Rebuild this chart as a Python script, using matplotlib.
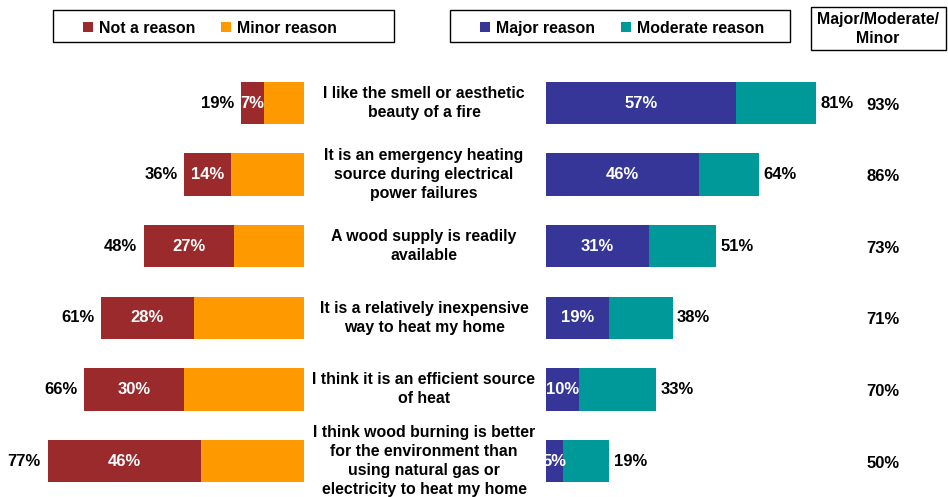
import matplotlib
matplotlib.use("Agg")
import matplotlib.pyplot as plt
from matplotlib.patches import Rectangle

# Survey results (percent of respondents)
reasons = [
    "I like the smell or aesthetic\nbeauty of a fire",
    "It is an emergency heating\nsource during electrical\npower failures",
    "A wood supply is readily\navailable",
    "It is a relatively inexpensive\nway to heat my home",
    "I think it is an efficient source\nof heat",
    "I think wood burning is better\nfor the environment than\nusing natural gas or\nelectricity to heat my home",
]
not_reason = [7, 14, 27, 28, 30, 46]
not_or_minor = [19, 36, 48, 61, 66, 77]
major = [57, 46, 31, 19, 10, 5]
major_or_moderate = [81, 64, 51, 38, 33, 19]
major_moderate_minor = [93, 86, 73, 71, 70, 50]

RED = "#9b2a2c"
ORANGE = "#ff9900"
NAVY = "#363698"
TEAL = "#009999"

plt.rcParams["font.family"] = ["Liberation Sans", "DejaVu Sans"]
plt.rcParams["font.weight"] = "bold"
FS = 11.4
NUM_FS = 12

W, H = 948, 497
fig = plt.figure(figsize=(W / 100, H / 100), dpi=100)

px_per_pct = 3.33
row0, row_gap = 103, 71.6
ylim = ((H - row0) / row_gap, -row0 / row_gap)
bar_h = 0.59
rows = range(len(reasons))

# left half: "not a reason" + "minor reason", growing leftwards
axl = fig.add_axes([0, 0, 304 / W, 1])
axl.set_xlim(304 / px_per_pct, 0)
axl.set_ylim(*ylim)
axl.axis("off")
minor = [t - n for t, n in zip(not_or_minor, not_reason)]
axl.barh(rows, minor, height=bar_h, color=ORANGE)
axl.barh(rows, not_reason, left=minor, height=bar_h, color=RED)
for i in rows:
    axl.text(minor[i] + not_reason[i] / 2, i, f"{not_reason[i]}%", ha="center",
             va="center", color="white", fontsize=NUM_FS, fontweight="bold")
    axl.text(not_or_minor[i] + 2, i, f"{not_or_minor[i]}%", ha="right",
             va="center", color="black", fontsize=NUM_FS, fontweight="bold")

# right half: "major reason" + "moderate reason"
axr = fig.add_axes([546 / W, 0, (W - 546) / W, 1])
axr.set_xlim(0, (W - 546) / px_per_pct)
axr.set_ylim(*ylim)
axr.axis("off")
moderate = [t - m for t, m in zip(major_or_moderate, major)]
axr.barh(rows, major, height=bar_h, color=NAVY)
axr.barh(rows, moderate, left=major, height=bar_h, color=TEAL)
for i in rows:
    axr.text(major[i] / 2, i, f"{major[i]}%", ha="center", va="center",
             color="white", fontsize=NUM_FS, fontweight="bold")
    axr.text(major_or_moderate[i] + 1.3, i, f"{major_or_moderate[i]}%",
             ha="left", va="center", color="black", fontsize=NUM_FS, fontweight="bold")
    axr.text((883 - 546) / px_per_pct, i + 0.03, f"{major_moderate_minor[i]}%",
             ha="center", va="center", color="black", fontsize=NUM_FS, fontweight="bold")
    # category label between the two halves
    axr.text((424 - 546) / px_per_pct, i, reasons[i], ha="center", va="center",
             fontsize=FS, fontweight="bold", linespacing=1.34, multialignment="center")


def fig_box(x0, y0, x1, y1):
    fig.patches.append(Rectangle((x0 / W, 1 - y1 / H), (x1 - x0) / W, (y1 - y0) / H,
                                 transform=fig.transFigure, facecolor="white",
                                 edgecolor="black", linewidth=1.0))


def legend_item(x, y, color, label):
    fig.patches.append(Rectangle((x / W, 1 - (y + 5) / H), 10 / W, 10 / H,
                                 transform=fig.transFigure, facecolor=color,
                                 edgecolor="none"))
    fig.text((x + 16) / W, 1 - y / H, label, ha="left", va="center_baseline",
             fontsize=FS, fontweight="bold")


fig_box(53, 10, 394, 42)
legend_item(83, 27, RED, "Not a reason")
legend_item(221, 27, ORANGE, "Minor reason")

fig_box(450, 10, 790, 42)
legend_item(480, 27, NAVY, "Major reason")
legend_item(621, 27, TEAL, "Moderate reason")

fig_box(811, 7, 946, 50)
fig.text(878 / W, 1 - 29 / H, "Major/Moderate/\nMinor", ha="center", va="center",
         fontsize=FS, fontweight="bold", linespacing=1.4)

fig.savefig("out.png", dpi=100)
